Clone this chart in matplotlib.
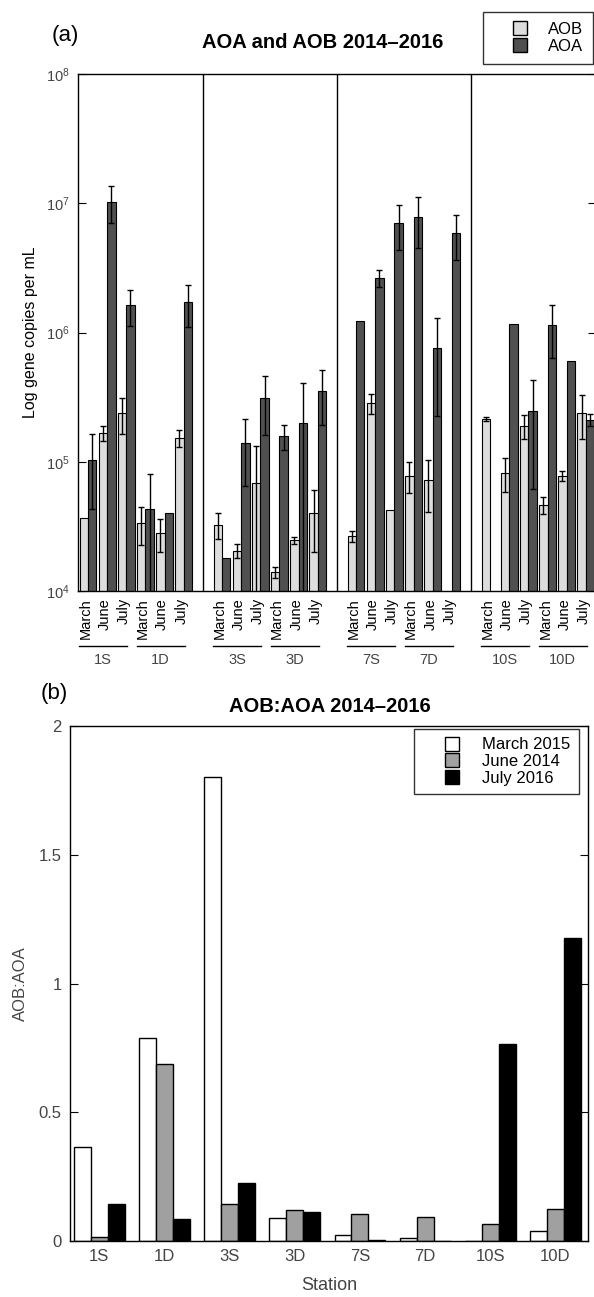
import matplotlib
matplotlib.use('Agg')
import matplotlib.pyplot as plt
from matplotlib.lines import Line2D
from matplotlib.ticker import NullLocator
import numpy as np

plt.rcParams['font.family'] = ['Liberation Sans', 'DejaVu Sans']
plt.rcParams['mathtext.default'] = 'regular'

stations = ['1S', '1D', '3S', '3D', '7S', '7D', '10S', '10D']
months = ['March', 'June', 'July']
nan = np.nan

# (a) gene copies per mL, one row per station: March, June, July
aob_mean = [[3.7e4, 1.67e5, 2.39e5],
            [3.36e4, 2.8e4, 1.53e5],
            [3.26e4, 2.05e4, 6.84e4],
            [1.4e4, 2.48e4, 4.0e4],
            [2.66e4, 2.86e5, 4.23e4],
            [7.8e4, 7.2e4, nan],
            [2.14e5, 8.2e4, 1.9e5],
            [4.65e4, 7.8e4, 2.39e5]]
aob_err = [[nan, 2.2e4, 7.5e4],
           [1.1e4, 7.9e3, 2.2e4],
           [7.4e3, 2.6e3, 6.5e4],
           [1.4e3, 1.5e3, 2.0e4],
           [2.6e3, 5.0e4, nan],
           [2.1e4, 3.1e4, nan],
           [6e3, 2.4e4, 3.9e4],
           [7e3, 7e3, 9e4]]
aoa_mean = [[1.03e5, 1.03e7, 1.64e6],
            [4.3e4, 4.0e4, 1.73e6],
            [1.81e4, 1.40e5, 3.11e5],
            [1.59e5, 2.0e5, 3.52e5],
            [1.22e6, 2.63e6, 7.05e6],
            [7.8e6, 7.57e5, 5.88e6],
            [nan, 1.16e6, 2.47e5],
            [1.14e6, 6.0e5, 2.11e5]]
aoa_err = [[6.0e4, 3.3e6, 5.1e5],
           [3.7e4, nan, 6.2e5],
           [nan, 7.5e4, 1.5e5],
           [3.5e4, 2.1e5, 1.6e5],
           [nan, 4.0e5, 2.7e6],
           [3.3e6, 5.3e5, 2.25e6],
           [nan, nan, 1.85e5],
           [5.0e5, nan, 2.2e4]]

# (b) AOB:AOA ratio per station
ratio_march = [0.365, 0.787, 1.80, 0.088, 0.022, 0.010, 0.0, 0.038]
ratio_june = [0.015, 0.688, 0.144, 0.122, 0.105, 0.093, 0.065, 0.126]
ratio_july = [0.145, 0.087, 0.224, 0.111, 0.005, 0.0, 0.764, 1.175]

W, H = 594, 1297
fig = plt.figure(figsize=(W / 100, H / 100), dpi=100)

def fx(px):
    return px / W

def fy(py):
    return 1 - py / H

tick_col = '#444444'

# ---------------- panel (a)
ax = fig.add_axes([fx(78), fy(591), fx(596) - fx(78), fy(74) - fy(591)])
pos = np.array([[7 * (s // 2) + 3 * (s % 2) + m for m in range(3)] for s in range(8)], float)
w = 0.44
x = pos.ravel()
ax.bar(x - w / 2, np.ravel(aob_mean), w, color='#dcdddc', edgecolor='black', linewidth=0.8, zorder=2)
ax.bar(x + w / 2, np.ravel(aoa_mean), w, color='#505050', edgecolor='black', linewidth=0.8, zorder=2)
ax.errorbar(x - w / 2, np.ravel(aob_mean), yerr=np.ravel(aob_err), fmt='none', ecolor='black',
            elinewidth=1, capsize=2.3, capthick=1, zorder=3)
ax.errorbar(x + w / 2, np.ravel(aoa_mean), yerr=np.ravel(aoa_err), fmt='none', ecolor='black',
            elinewidth=1, capsize=2.3, capthick=1, zorder=3)
for sep in [6, 13, 20]:
    ax.axvline(sep, color='black', linewidth=1, zorder=1)
ax.set_yscale('log')
ax.set_ylim(1e4, 1e8)
ax.set_xlim(-0.52, 26.53)
ax.yaxis.set_minor_locator(NullLocator())
ax.set_yticks([1e4, 1e5, 1e6, 1e7, 1e8])
ax.tick_params(axis='y', direction='in', length=6, right=True, labelsize=10.5,
               labelcolor=tick_col, pad=6)
ax.set_xticks(x - 0.12)
ax.set_xticklabels(months * 8, rotation=90, fontsize=10.5)
ax.tick_params(axis='x', length=0, pad=5)
for sp in ax.spines.values():
    sp.set_linewidth(1)
ax.set_ylabel('Log gene copies per mL', fontsize=11.5, labelpad=6)
tr = ax.get_xaxis_transform()
for s in range(8):
    a, b = pos[s, 0] - 0.45, pos[s, 2] + 0.05
    ax.plot([a, b], [-0.106, -0.106], color='black', linewidth=1, transform=tr, clip_on=False)
    ax.text((a + b) / 2, -0.133, stations[s], transform=tr, ha='center', va='center',
            fontsize=10.5, color=tick_col)

fig.text(fx(323), fy(43), 'AOA and AOB 2014\u20132016', ha='center', va='center',
         fontsize=14.5, fontweight='bold')
fig.text(fx(52), fy(35), '(a)', ha='left', va='center', fontsize=16)
h1 = [Line2D([], [], marker='s', linestyle='none', markersize=10, markerfacecolor='#dcdddc',
             markeredgecolor='black', markeredgewidth=1),
      Line2D([], [], marker='s', linestyle='none', markersize=10, markerfacecolor='#505050',
             markeredgecolor='black', markeredgewidth=1)]
leg = fig.legend(h1, ['AOB', 'AOA'], loc='upper right', bbox_to_anchor=(fx(593), fy(12)),
                 frameon=True, fancybox=False, edgecolor='black', fontsize=12, handlelength=3.2,
                 handletextpad=0.1, labelspacing=0.1, borderpad=0.6, borderaxespad=0)
leg.get_frame().set_linewidth(1)

# ---------------- panel (b)
bx = fig.add_axes([fx(70), fy(1241), fx(588) - fx(70), fy(726) - fy(1241)])
xs = np.arange(len(stations))
bw = 0.26
bx.bar(xs - bw, ratio_march, bw, color='white', edgecolor='black', linewidth=1, label='March 2015')
bx.bar(xs, ratio_june, bw, color='#a0a0a0', edgecolor='black', linewidth=1, label='June 2014')
bx.bar(xs + bw, ratio_july, bw, color='black', edgecolor='black', linewidth=1, label='July 2016')
bx.set_xlim(-0.45, 7.5)
bx.set_ylim(0, 2)
bx.set_yticks([0, 0.5, 1, 1.5, 2])
bx.set_yticklabels(['0', '0.5', '1', '1.5', '2'])
bx.set_xticks(xs)
bx.set_xticklabels(stations)
bx.tick_params(axis='y', direction='in', length=6, right=True, labelsize=12,
               labelcolor=tick_col, pad=6)
bx.tick_params(axis='x', length=0, labelsize=12, labelcolor=tick_col, pad=6)
for sp in bx.spines.values():
    sp.set_linewidth(1)
bx.set_xlabel('Station', fontsize=13, color=tick_col, labelpad=9)
bx.set_ylabel('AOB:AOA', fontsize=12, color=tick_col, labelpad=8)
fig.text(fx(330), fy(707), 'AOB:AOA 2014\u20132016', ha='center', va='center',
         fontsize=14.5, fontweight='bold')
fig.text(fx(41), fy(694), '(b)', ha='left', va='center', fontsize=16)
h2 = [Line2D([], [], marker='s', linestyle='none', markersize=10, markerfacecolor=c,
             markeredgecolor='black', markeredgewidth=1) for c in ['white', '#a0a0a0', 'black']]
leg2 = bx.legend(h2, ['March 2015', 'June 2014', 'July 2016'], loc='upper right',
                 bbox_to_anchor=(fx(579 - 70) / fx(518), 1 - 3 / 515), frameon=True, fancybox=False,
                 edgecolor='black', fontsize=12, handlelength=3.5, handletextpad=0.1,
                 labelspacing=0.1, borderpad=0.5, borderaxespad=0)
leg2.get_frame().set_linewidth(1)

fig.savefig('out.png', dpi=100)
